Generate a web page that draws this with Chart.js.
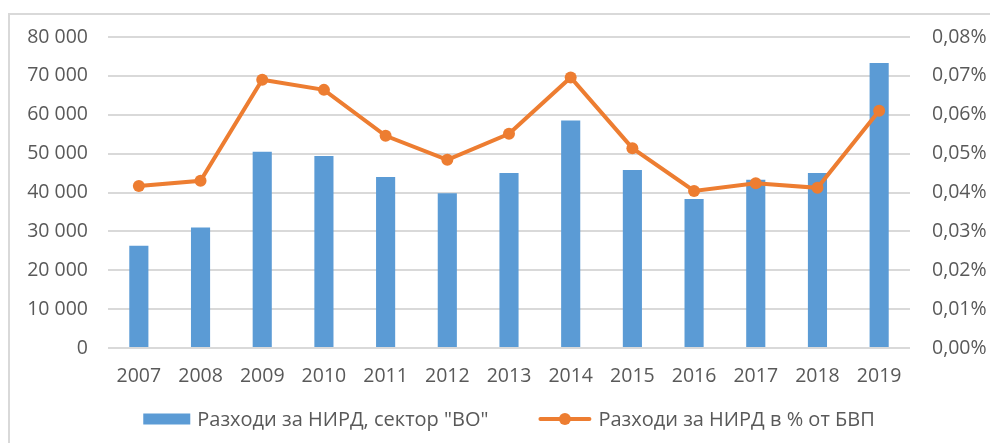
<!DOCTYPE html>
<html>
<head>
<meta charset="utf-8">
<script src="https://cdn.jsdelivr.net/npm/chart.js@4/dist/chart.umd.min.js"></script>
<style>
  html, body { margin: 0; padding: 0; background: #fff; overflow: hidden; }
  #frame { position: absolute; left: 8px; top: 13px; width: 1100px; height: 600px; border: 2px solid #d9d9d9; box-sizing: border-box; }
  #wrap { position: absolute; left: 0; top: 0; width: 990px; height: 443px; }
</style>
</head>
<body>
<div id="frame"></div>
<div id="wrap"><canvas id="chart"></canvas></div>
<script>
// данни, отчетени от графиката
const years = ['2007', '2008', '2009', '2010', '2011', '2012', '2013', '2014', '2015', '2016', '2017', '2018', '2019'];
const spendVO = [26300, 31000, 50500, 49400, 44000, 39800, 45000, 58500, 45800, 38300, 43300, 45000, 73300];
const spendPctGDP = [0.0417, 0.0430, 0.0690, 0.0664, 0.0546, 0.0484, 0.0551, 0.0696, 0.0514, 0.0404, 0.0424, 0.0412, 0.0610];

const labelBar = 'Разходи за НИРД, сектор "ВО"';
const labelLine = 'Разходи за НИРД в % от БВП';

const BLUE = '#5B9BD5';
const ORANGE = '#ED7D31';
const TEXT = '#595959';
const GRID = '#d9d9d9';
const FONT_FAMILY = '"Open Sans", sans-serif';
const FONT_SIZE = 19.5;
const LEGEND_SIZE = 20;

Chart.defaults.font.family = FONT_FAMILY;
Chart.defaults.font.size = FONT_SIZE;
Chart.defaults.color = TEXT;

const fmtThousands = v => String(Math.round(v)).replace(/\B(?=(\d{3})+(?!\d))/g, ' ');
const fmtPct = v => v.toFixed(2).replace('.', ',') + '%';

// легенда в стил Excel: правоъгълник за колоните, линия с маркер за линията
const excelLegend = {
  id: 'excelLegend',
  afterDraw(chart) {
    const ctx = chart.ctx;
    const items = chart.data.datasets.map(d => ({ label: d.label, type: d.type }));
    ctx.save();
    ctx.font = LEGEND_SIZE + 'px ' + FONT_FAMILY;
    ctx.textBaseline = 'middle';
    const y = 419;
    const symW = it => it.type === 'bar' ? 47 : 53;
    const gapTxt = 7, gapItem = 50;
    const widths = items.map(it => symW(it) + gapTxt + ctx.measureText(it.label).width);
    const total = widths.reduce((a, b) => a + b, 0) + gapItem * (items.length - 1);
    let x = (chart.chartArea.left + chart.chartArea.right) / 2 - total / 2;
    items.forEach((it, i) => {
      if (it.type === 'bar') {
        ctx.fillStyle = BLUE;
        ctx.fillRect(x, y - 5.5, 47, 11);
      } else {
        ctx.strokeStyle = ORANGE;
        ctx.lineWidth = 4;
        ctx.lineCap = 'round';
        ctx.beginPath();
        ctx.moveTo(x + 2, y);
        ctx.lineTo(x + 51, y);
        ctx.stroke();
        ctx.fillStyle = ORANGE;
        ctx.beginPath();
        ctx.arc(x + 26.5, y, 6, 0, Math.PI * 2);
        ctx.fill();
      }
      ctx.fillStyle = TEXT;
      ctx.fillText(it.label, x + symW(it) + gapTxt, y + 1);
      x += widths[i] + gapItem;
    });
    ctx.restore();
  }
};

new Chart(document.getElementById('chart'), {
  data: {
    labels: years,
    datasets: [
      {
        type: 'bar',
        label: labelBar,
        data: spendVO,
        backgroundColor: BLUE,
        borderColor: BLUE,
        yAxisID: 'y',
        categoryPercentage: 1,
        barPercentage: 0.31,
        order: 2
      },
      {
        type: 'line',
        label: labelLine,
        data: spendPctGDP,
        borderColor: ORANGE,
        backgroundColor: ORANGE,
        borderWidth: 4,
        pointRadius: 6,
        pointBackgroundColor: ORANGE,
        pointBorderColor: ORANGE,
        pointBorderWidth: 0,
        tension: 0,
        yAxisID: 'y1',
        order: 1
      }
    ]
  },
  options: {
    responsive: true,
    maintainAspectRatio: false,
    animation: false,
    layout: { padding: { top: 37, left: 0, right: 0, bottom: 0 } },
    plugins: {
      legend: { display: false },
      tooltip: { enabled: false }
    },
    scales: {
      x: {
        grid: { display: false },
        border: { display: false },
        ticks: { padding: 9, maxRotation: 0 },
        afterFit(scale) { scale.height = 95; }
      },
      y: {
        position: 'left',
        min: 0,
        max: 80000,
        ticks: { stepSize: 10000, padding: 20, callback: v => fmtThousands(v) },
        grid: { color: GRID, lineWidth: 2, drawTicks: false },
        border: { display: false },
        afterFit(scale) { scale.width = 108; }
      },
      y1: {
        position: 'right',
        min: 0,
        max: 0.08,
        ticks: { stepSize: 0.01, padding: 22, callback: v => fmtPct(v) },
        grid: { display: false, drawTicks: false },
        border: { display: false },
        afterFit(scale) { scale.width = 80; }
      }
    }
  },
  plugins: [excelLegend]
});
</script>
</body>
</html>
